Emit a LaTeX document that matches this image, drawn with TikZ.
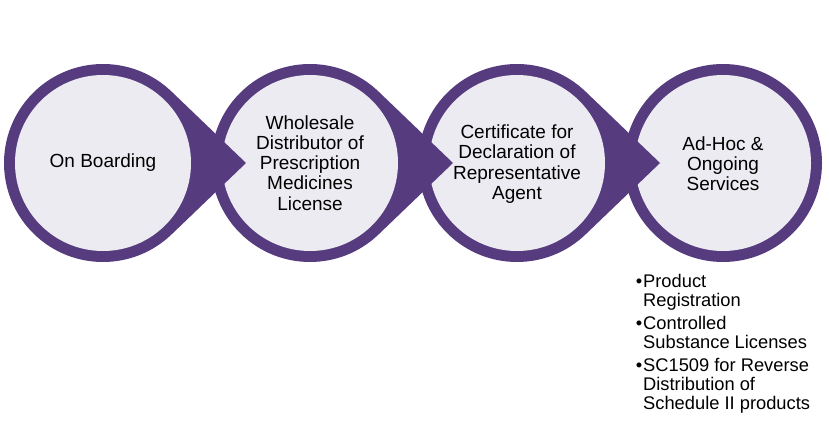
\documentclass[tikz,border=0pt]{standalone}
\usepackage{fontspec}
\setmainfont{Liberation Sans}
\definecolor{ringpurple}{HTML}{563C7F}
\definecolor{innerfill}{HTML}{ECEBF1}
\tikzset{
  x=1pt, y=1pt,
  steptext/.style={align=center, inner sep=0pt, text=black,
    font=\fontsize{19}{20.2}\selectfont},
  itemtext/.style={align=left, inner sep=0pt, anchor=base west, text=black,
    font=\fontsize{18.3}{19}\selectfont},
}
\begin{document}
\begin{tikzpicture}
\useasboundingbox (0,0) rectangle (829,429);
% last circle: plain ring
\fill[ringpurple] (723,266) circle[radius=99];
\fill[innerfill] (723,266) circle[radius=88];
% circles with pointed tails, drawn right to left so each tail overlaps the next ring
\foreach \cx in {517,310,103} {
  \fill[ringpurple] (\cx+143,266) -- ([shift={(\cx,266)}]46:99)
     arc[start angle=46, end angle=314, radius=99] -- cycle;
  \fill[innerfill] (\cx,266) circle[radius=88];
}
\node[steptext] (a) at (103,266) {On Boarding};
\node[steptext] (b) at (310,266) {Wholesale\\Distributor of\\Prescription\\Medicines\\License};
\node[steptext] (c) at (517,265) {Certificate for\\Declaration of\\Representative\\Agent};
\node[steptext] (d) at (723,265) {Ad-Hoc \&\\Ongoing\\Services};
\node[itemtext] (i1) at (643,122.3) {\llap{\textbullet\kern1pt}Product\\Registration};
\node[itemtext] (i2) at (643,80.7) {\llap{\textbullet\kern1pt}Controlled\\Substance Licenses};
\node[itemtext] (i3) at (643,19.7) {\llap{\textbullet\kern1pt}SC1509 for Reverse\\Distribution of\\Schedule II products};
\end{tikzpicture}
\end{document}
